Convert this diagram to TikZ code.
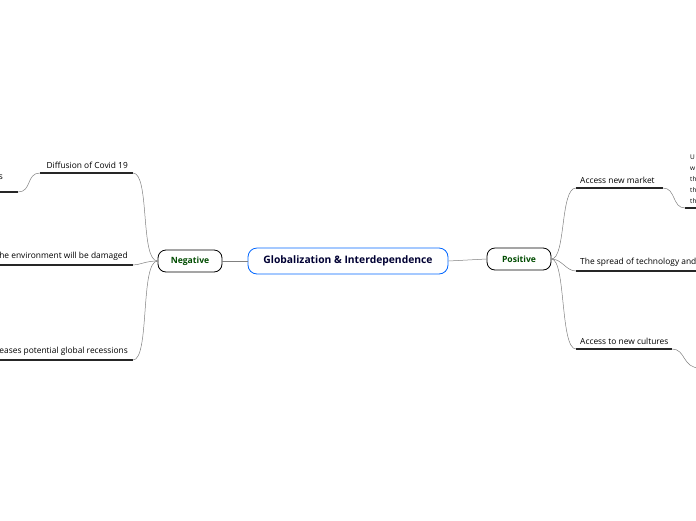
\documentclass[tikz,border=0pt]{standalone}
\usepackage{fontspec}
\setmainfont{Open Sans}
\begin{document}
\begin{tikzpicture}[x=1pt,y=-1pt,
 lbl/.style={font=\fontsize{8.4}{10}\selectfont, inner sep=1pt},
 ul/.style={line width=1.2pt, black!85},
 conn/.style={gray, line width=0.5pt},
 topic/.style={draw, rounded corners=8pt, line width=0.8pt, font=\bfseries\fontsize{8.6}{10}\selectfont, text=green!30!black, minimum width=64pt, minimum height=22pt}]
\clip (0,0) rectangle (696,520);
\fill[white] (0,0) rectangle (696,520);
\node[draw=blue!60!cyan, rounded corners=9pt, line width=0.8pt, minimum width=200pt, minimum height=26pt, font=\bfseries\fontsize{10.3}{12}\selectfont, text=blue!20!black] (c) at (348,261) {Globalization \& Interdependence};
\node[topic] (neg) at (190,261) {Negative};
\node[topic] (pos) at (519,259) {Positive};
\draw[conn] (neg.east) -- (c.west);
\draw[conn] (c.east) -- (pos.west);
% left
\coordinate (d1) at (40,173); \coordinate (d2) at (133,173);
\draw[ul] (d1) -- (d2);
\node[lbl, anchor=south east] (dt) at (129,170) {Diffusion of Covid 19};
\coordinate (s1) at (0,192); \coordinate (s2) at (18,192);
\draw[ul] (s1) -- (s2);
\node[lbl, anchor=south east] (st) at (4,181) {s};
\draw[conn] (s2) .. controls (32,192) and (26,173) .. (d1);
\coordinate (e1) at (0,265); \coordinate (e2) at (133,265);
\draw[ul] (e1) -- (e2);
\node[lbl, anchor=south east] (et) at (129,262) {The environment will be damaged};
\coordinate (r1) at (0,360); \coordinate (r2) at (133,360);
\draw[ul] (r1) -- (r2);
\node[lbl, anchor=south east] (rt) at (129,357) {It increases potential global recessions};
\draw[conn] (neg.west) .. controls (140,261) and (150,173) .. (d2);
\draw[conn] (neg.west) .. controls (145,261) and (140,265) .. (e2);
\draw[conn] (neg.west) .. controls (140,261) and (150,360) .. (r2);
% right
\coordinate (a1) at (576,188); \coordinate (a2) at (663,188);
\draw[ul] (a1) -- (a2);
\node[lbl, anchor=south west] (at) at (579,185) {Access new market};
\coordinate (u1) at (685,208); \coordinate (u2) at (696,208);
\draw[ul] (u1) -- (u2);
\node[anchor=north west, font=\fontsize{6.5}{10.8}\selectfont, inner sep=0pt, align=left] (ut) at (690,155) {U\\w\\th\\th\\th};
\draw[conn] (a2) .. controls (676,188) and (672,208) .. (u1);
\coordinate (t1) at (576,271); \coordinate (t2) at (696,271);
\draw[ul] (t1) -- (t2);
\node[lbl, anchor=south west] (tt) at (579,268) {The spread of technology and};
\coordinate (n1) at (576,349); \coordinate (n2) at (672,349);
\draw[ul] (n1) -- (n2);
\node[lbl, anchor=south west] (nt) at (579,346) {Access to new cultures};
\coordinate (nx) at (700,368);
\draw[conn] (n2) .. controls (686,349) and (682,368) .. (nx);
\draw[conn] (pos.east) .. controls (566,259) and (560,188) .. (a1);
\draw[conn] (pos.east) .. controls (562,259) and (566,271) .. (t1);
\draw[conn] (pos.east) .. controls (566,259) and (560,349) .. (n1);
\end{tikzpicture}
\end{document}
